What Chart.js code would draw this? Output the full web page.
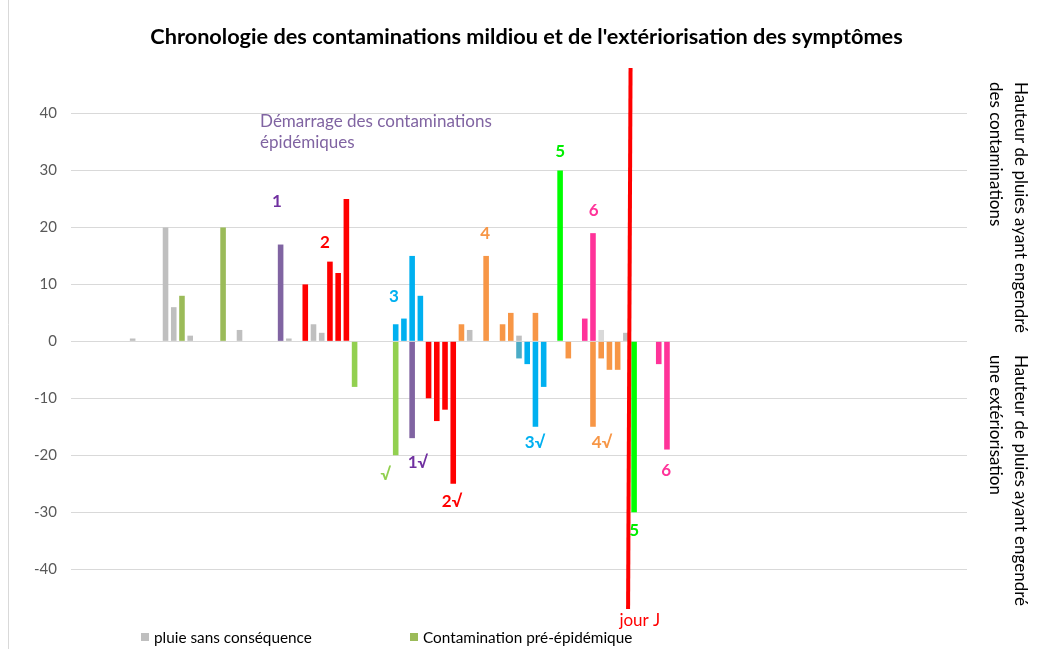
<!DOCTYPE html>
<html><head><meta charset="utf-8">
<script src="https://cdn.jsdelivr.net/npm/chart.js@4/dist/chart.umd.min.js"></script>
<style>html,body{margin:0;padding:0;background:#fff}#wrap{width:1040px;height:649px;position:relative}canvas{display:block}</style>
</head><body><div id="wrap"><canvas id="c" width="1040" height="649"></canvas></div>
<script>
const FAMILY = 'Lato, "Open Sans", sans-serif';
const N_DAYS = 109;
const categories = Array.from({length: N_DAYS}, (_, i) => String(i + 1));
const yTickValues = [-40, -30, -20, -10, 0, 10, 20, 30, 40];
const yMin = -47, yMax = 48;

// [day index, rain height]
const pluieSansConsequence = [[7,0.5],[11,20],[12,6],[14,1],[20,2],[26,0.5],[29,3],[30,1.5],[48,2],[54,1],[67,1.5]];
const pluieClaire = [[64,2]];
const contaminationPreEpidemique = [[13,8],[18,20]];
const exteriorisationPre = [[34,-8],[39,-20]];
const contamination1 = [[25,17]];
const exteriorisation1 = [[41,-17]];
const contamination2 = [[28,10],[31,14],[32,12],[33,25]];
const exteriorisation2 = [[43,-10],[44,-14],[45,-12],[46,-25]];
const contamination3 = [[39,3],[40,4],[41,15],[42,8]];
const exteriorisation3a = [[54,-3]];
const exteriorisation3 = [[55,-4],[56,-15],[57,-8]];
const contamination4 = [[47,3],[50,15],[52,3],[53,5],[56,5]];
const exteriorisation4 = [[60,-3],[63,-15],[64,-3],[65,-5],[66,-5]];
const contamination5 = [[59,30]];
const exteriorisation5 = [[68,-30]];
const contamination6 = [[62,4],[63,19]];
const exteriorisation6 = [[71,-4],[72,-19]];
const jourJ = [[67.57,48],[67.27,-47]];

// annotations: [text, day index, value, colour, bold]
const annotations = [
  ['1', 24.56, 24.6, '#7030A0', true],
  ['2', 30.4, 17.4, '#FF0000', true],
  ['3', 38.8, 7.8, '#00B0F0', true],
  ['4', 49.9, 18.9, '#F79646', true],
  ['5', 59.0, 33.4, '#00EE00', true],
  ['6', 63.1, 22.9, '#FF3399', true],
  ['√', 37.8, -23.3, '#92D050', true],
  ['1√', 41.7, -21.2, '#7030A0', true],
  ['2√', 45.85, -28.2, '#FF0000', true],
  ['3√', 55.95, -17.7, '#00B0F0', true],
  ['4√', 64.1, -17.7, '#F79646', true],
  ['5', 68.0, -33.3, '#00EE00', true],
  ['6', 71.9, -22.6, '#FF3399', true],
  ['jour J', 68.7, -49.1, '#FF0000', false]
];
const noteLines = ['Démarrage des contaminations', 'épidémiques'];
const titleText = "Chronologie des contaminations mildiou et de l'extériorisation des symptômes";
const axisTitleTop = ['Hauteur de pluies ayant engendré', 'des contaminations'];
const axisTitleBottom = ['Hauteur de pluies ayant engendré', 'une extériorisation'];

function toSeries(pairs) {
  const arr = new Array(N_DAYS).fill(null);
  pairs.forEach(([i, v]) => { arr[i] = v; });
  return arr;
}
function bar(label, pairs, color, legend) {
  return { type: 'bar', label, data: toSeries(pairs), backgroundColor: color, borderWidth: 0,
    stack: 's', grouped: false, barPercentage: 0.68, categoryPercentage: 1, inLegend: !!legend };
}

const datasets = [
  { type: 'line', label: 'jour J', xAxisID: 'xl', order: -1, data: jourJ.map(([x, y]) => ({x, y})),
    borderColor: '#FF0000', borderWidth: 4, pointRadius: 0, fill: false, tension: 0 },
  bar('pluie sans conséquence', pluieSansConsequence, '#BFBFBF', true),
  bar('pluie', pluieClaire, '#D9D9D9'),
  bar('Contamination pré-épidémique', contaminationPreEpidemique, '#9BBB59', true),
  bar('Extériorisation pré-épidémique', exteriorisationPre, '#92D050'),
  bar('Contamination 1', contamination1, '#8064A2'),
  bar('Extériorisation 1', exteriorisation1, '#8064A2'),
  bar('Contamination 2', contamination2, '#FF0000'),
  bar('Extériorisation 2', exteriorisation2, '#FF0000'),
  bar('Contamination 3', contamination3, '#00B0F0'),
  bar('Extériorisation 3a', exteriorisation3a, '#4BACC6'),
  bar('Extériorisation 3', exteriorisation3, '#00B0F0'),
  bar('Contamination 4', contamination4, '#F79646'),
  bar('Extériorisation 4', exteriorisation4, '#F79646'),
  bar('Contamination 5', contamination5, '#00FF00'),
  bar('Extériorisation 5', exteriorisation5, '#00FF00'),
  bar('Contamination 6', contamination6, '#FF3399'),
  bar('Extériorisation 6', exteriorisation6, '#FF3399')
];

function fitSize(ctx, text, weight, targetW) {
  ctx.font = `${weight} 100px ${FAMILY}`;
  return 100 * targetW / ctx.measureText(text).width;
}

const decor = {
  id: 'decor',
  beforeDraw(chart) {
    const ctx = chart.ctx;
    ctx.save();
    ctx.fillStyle = '#fff';
    ctx.fillRect(0, 0, chart.width, chart.height);
    ctx.strokeStyle = '#D9D9D9';
    ctx.lineWidth = 1;
    ctx.beginPath(); ctx.moveTo(8.5, 0); ctx.lineTo(8.5, chart.height); ctx.stroke();
    ctx.restore();
  },
  afterDraw(chart) {
    const ctx = chart.ctx, xs = chart.scales.xl, ys = chart.scales.y;
    ctx.save();
    // title
    let s = fitSize(ctx, titleText, 'bold', 753);
    ctx.font = `bold ${s}px ${FAMILY}`;
    ctx.fillStyle = '#000';
    ctx.textAlign = 'center'; ctx.textBaseline = 'middle';
    ctx.fillText(titleText, 526.5, 37);

    // note
    s = fitSize(ctx, noteLines[0], 'normal', 232);
    ctx.font = `normal ${s}px ${FAMILY}`;
    ctx.fillStyle = '#8064A2';
    ctx.textAlign = 'left';
    ctx.fillText(noteLines[0], xs.getPixelForValue(22.5), ys.getPixelForValue(38.6));
    ctx.fillText(noteLines[1], xs.getPixelForValue(22.5), ys.getPixelForValue(34.9));

    // annotations
    annotations.forEach(([t, xi, v, col, bold]) => {
      const px = xs.getPixelForValue(xi), py = ys.getPixelForValue(v);
      ctx.font = `${bold ? 'bold' : 'normal'} 17px ${FAMILY}`;
      const w = ctx.measureText(t).width;
      ctx.fillStyle = '#fff';
      if (t === '2') ctx.fillRect(px - w / 2 - 6, py - 11, w + 12, 22);
      ctx.fillStyle = col;
      ctx.textAlign = 'center'; ctx.textBaseline = 'middle';
      ctx.fillText(t, px, py);
    });

    // right rotated axis titles
    s = fitSize(ctx, axisTitleTop[0], 'normal', 251);
    ctx.font = `normal ${s}px ${FAMILY}`;
    ctx.fillStyle = '#000';
    ctx.textAlign = 'left'; ctx.textBaseline = 'middle';
    const drawRot = (lines, y0) => {
      lines.forEach((ln, k) => {
        ctx.save();
        ctx.translate(k === 0 ? 1020 : 995, y0);
        ctx.rotate(Math.PI / 2);
        ctx.fillText(ln, 0, 0);
        ctx.restore();
      });
    };
    drawRot(axisTitleTop, 82);
    drawRot(axisTitleBottom, 355);

    // legend
    const legendItems = chart.data.datasets.filter(d => d.inLegend);
    const lx = [141, 410];
    s = fitSize(ctx, legendItems[0].label, 'normal', 158);
    ctx.font = `normal ${s}px ${FAMILY}`;
    ctx.textBaseline = 'middle'; ctx.textAlign = 'left';
    legendItems.forEach((d, k) => {
      ctx.fillStyle = d.backgroundColor;
      ctx.fillRect(lx[k], 633, 8, 8);
      ctx.fillStyle = '#000';
      ctx.fillText(d.label, lx[k] + 13, 638);
    });
    ctx.restore();
  }
};

new Chart(document.getElementById('c'), {
  data: { labels: categories, datasets },
  options: {
    responsive: false, animation: false, devicePixelRatio: 1,
    layout: { padding: { top: 68, right: 73, bottom: 40, left: 0 } },
    plugins: { legend: { display: false }, tooltip: { enabled: false }, title: { display: false } },
    scales: {
      x: { type: 'category', stacked: true, display: false, offset: true },
      xl: { type: 'linear', display: false, min: -0.5, max: N_DAYS - 0.5 },
      y: {
        stacked: true, min: yMin, max: yMax,
        afterFit(s) { s.width = 71; },
        afterBuildTicks(s) { s.ticks = yTickValues.map(v => ({ value: v })); },
        border: { display: false },
        grid: { color: '#D9D9D9', lineWidth: 1, drawTicks: false },
        ticks: { padding: 14, color: '#595959', font: { family: FAMILY, size: 15 } }
      }
    }
  },
  plugins: [decor]
});
</script>
</body></html>
